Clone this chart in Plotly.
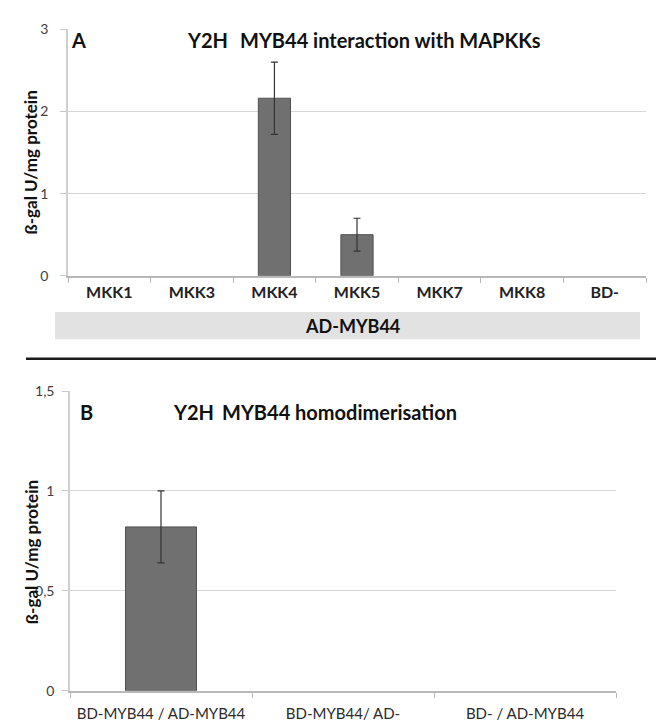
import plotly.graph_objects as go

# Panel A data
cats_a = ["MKK1", "MKK3", "MKK4", "MKK5", "MKK7", "MKK8", "BD-"]
vals_a = [0, 0, 2.16, 0.50, 0, 0, 0]
err_a = [0, 0, 0.44, 0.20, 0, 0, 0]

# Panel B data
cats_b = ["BD-MYB44 / AD-MYB44", "BD-MYB44/ AD-", "BD- / AD-MYB44"]
vals_b = [0.82, 0, 0]
err_b = [0.18, 0, 0]

W, H = 664, 725
FONT = "Lato"
BAR = "#707070"
GRID = "#d6d6d6"


def px(x):
    return x / W


def py(y):
    return 1 - y / H


def bar_trace(cats, vals, errs, xa, ya):
    # zero-valued bars are not drawn (no visible mark in the source chart)
    return go.Bar(
        x=cats, y=[v if v > 0 else None for v in vals], xaxis=xa, yaxis=ya,
        marker=dict(color=BAR, line=dict(color="#505050", width=1)),
        error_y=dict(type="data", array=[e if e > 0 else None for e in errs],
                     color="#333333", thickness=1.2, width=3.5, visible=True),
        showlegend=False,
    )


fig = go.Figure()
fig.add_trace(bar_trace(cats_a, vals_a, err_a, "x", "y"))
fig.add_trace(bar_trace(cats_b, vals_b, err_b, "x2", "y2"))

axis_common_y = dict(
    showgrid=True, gridcolor=GRID, gridwidth=1.3,
    showline=True, linecolor="#cfcfcf", linewidth=1.5,
    ticks="outside", ticklen=6, tickcolor="#c8c8c8",
    tickfont=dict(family=FONT, size=14, color="#404040"),
    zeroline=False, fixedrange=True,
)
axis_common_x = dict(
    showline=True, linecolor="#b8b8b8", linewidth=1.5,
    ticks="outside", ticklen=5, tickcolor="#b8b8b8", tickson="boundaries",
    showgrid=False, fixedrange=True,
)

fig.update_layout(
    width=W, height=H,
    margin=dict(l=0, r=0, t=0, b=0),
    paper_bgcolor="white", plot_bgcolor="white",
    separators=", ",
    bargap=0.61,
    xaxis=dict(domain=[px(60), px(638)], anchor="y",
               tickfont=dict(family=FONT, size=16, color="#222222", weight="bold"),
               ticklabelstandoff=1, **axis_common_x),
    yaxis=dict(domain=[py(265), py(12.5)], anchor="x", range=[0, 3],
               tickvals=[0, 1, 2, 3], ticklabelstandoff=9, **axis_common_y),
    xaxis2=dict(domain=[px(62), px(608)], anchor="y2",
                tickfont=dict(family=FONT, size=15, color="#2a2a2a"),
                ticklabelstandoff=8, **axis_common_x),
    yaxis2=dict(domain=[py(690), py(383)], anchor="x2", range=[0, 1.5],
                tickvals=[0, 0.5, 1, 1.5], ticklabelstandoff=5, **axis_common_y),
)

# gray box with AD-MYB44 label
fig.add_shape(type="rect", xref="paper", yref="paper",
              x0=px(47), x1=px(632), y0=py(330), y1=py(302),
              fillcolor="#e2e2e2", line=dict(width=0), layer="below")
# separator line
fig.add_shape(type="line", xref="paper", yref="paper",
              x0=px(18), x1=px(657), y0=py(350), y1=py(350),
              line=dict(color="#1a1a1a", width=2.5))

ann = []


def text(x, y, s, size, bold=True, angle=0, xanchor="left", color="#111111"):
    ann.append(dict(x=px(x), y=py(y), xref="paper", yref="paper", text=s,
                    showarrow=False, xanchor=xanchor, yanchor="middle", textangle=angle,
                    font=dict(family=FONT, size=size, color=color,
                              weight="bold" if bold else "normal")))


text(344, 316, "AD-MYB44", 18, xanchor="center")
# panel A titles
text(61, 24, "A", 20)
text(177, 24, "Y2H", 20)
text(230, 24, "MYB44 interaction with MAPKKs", 20)
text(23, 149, "ß-gal U/mg protein", 17, angle=-90, xanchor="center")
# panel B titles
text(70, 404, "B", 20)
text(163, 404, "Y2H", 20)
text(212, 404, "MYB44 homodimerisation", 20)
text(23, 548, "ß-gal U/mg protein", 17, angle=-90, xanchor="center")

fig.update_layout(annotations=ann)
fig.write_html("out.html")
